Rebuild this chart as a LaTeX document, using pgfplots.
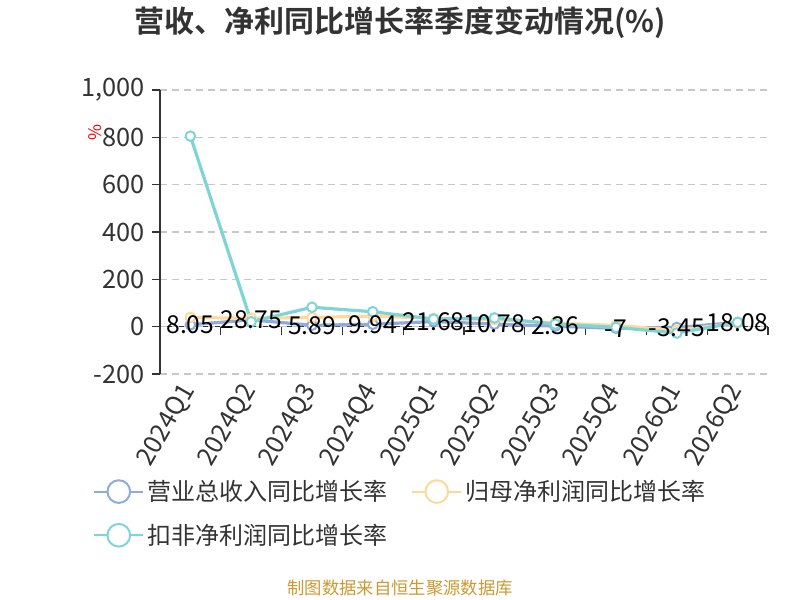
\documentclass[border=0pt]{standalone}
\usepackage{pgfplots}
\pgfplotsset{compat=1.18}
\usepackage{fontspec}
\setmainfont{Noto Sans CJK SC}[BoldFont={* Bold}]
\definecolor{cblue}{RGB}{143,170,220}
\definecolor{corange}{RGB}{255,217,155}
\definecolor{ccyan}{RGB}{127,212,215}
\definecolor{ctext}{RGB}{51,51,51}
\definecolor{cgrid}{RGB}{200,200,200}
\definecolor{cfoot}{RGB}{204,153,51}
\pgfplotstableread{
x y lab
0 8.05 8.05
1 28.75 28.75
2 5.89 5.89
3 9.94 9.94
4 21.68 21.68
5 10.78 10.78
6 2.36 2.36
7 -7 -7
8 -3.45 -3.45
9 18.08 18.08
}\revenue
\pgfplotstableread{
x y
0 39
1 35
2 39
3 45
4 35
5 30
6 15
7 5
8 -15
9 15
}\netprofit
\pgfplotstableread{
x y
0 805
1 21
2 82
3 63
4 32
5 37
6 11
7 -3
8 -27
9 18
}\deducted
\begin{document}
\begin{tikzpicture}
\useasboundingbox (0pt,0pt) rectangle (600pt,450pt);
\node[font=\fontsize{22.5}{26}\selectfont\bfseries, text=ctext] at (300pt,433pt) {营收、净利同比增长率季度变动情况(\%)};
\node[font=\fontsize{13}{16}\selectfont, text=cfoot] at (300pt,9pt) {制图数据来自恒生聚源数据库};
% zero line with boundary ticks
\begin{axis}[
  at={(120pt,169.5pt)}, anchor=south west,
  scale only axis, width=456pt, height=213pt,
  xmin=-0.5, xmax=9.5, ymin=-200, ymax=1000,
  axis y line=none, axis x line=middle,
  x axis line style={-, draw=ctext, line width=1pt},
  xtick={-0.5,0.5,...,9.5}, xticklabels={},
  tick align=outside, major tick length=6pt,
  xtick style={draw=ctext, line width=1pt},
]
\end{axis}
\begin{axis}[
  at={(120pt,169.5pt)}, anchor=south west,
  scale only axis, width=456pt, height=213pt,
  xmin=-0.5, xmax=9.5, ymin=-200, ymax=1000,
  axis x line=bottom, axis y line=left,
  x axis line style={draw=none, -},
  y axis line style={-, draw=ctext, line width=1pt},
  ytick={-200,0,200,400,600,800,1000},
  xtick={0,...,9},
  xticklabels={2024Q1,2024Q2,2024Q3,2024Q4,2025Q1,2025Q2,2025Q3,2025Q4,2026Q1,2026Q2},
  x tick style={draw=none},
  y tick style={draw=ctext, line width=1pt},
  tick align=outside, major tick length=6pt,
  ymajorgrids, major grid style={draw=cgrid, dash pattern=on 5pt off 4pt, line width=0.8pt},
  /pgf/number format/assume math mode=true,
  /pgf/number format/1000 sep={,},
  tick label style={font=\fontsize{19}{22}\selectfont, text=ctext},
  yticklabel style={xshift=-2pt},
  xticklabel style={rotate=60, anchor=east, yshift=-1pt},
  ylabel={\%}, ylabel style={at={(axis description cs:-0.107,0.849)}, anchor=center, text=red, font=\fontsize{13}{14}\selectfont, rotate=0},
  legend style={at={(axis description cs:-0.117,-0.355)}, anchor=north west, draw=none, fill=none,
    font=\fontsize{18}{21}\selectfont, text=ctext, legend columns=2,
    /tikz/every even column/.append style={column sep=16pt}, row sep=12pt},
  legend cell align=left,
  legend image code/.code={\draw[line width=1.5pt] (0pt,0pt) -- (37pt,0pt); \draw[line width=1.5pt, fill=white] (18.5pt,0pt) circle (8.5pt);},
  every axis plot/.append style={line width=2.4pt, mark=*, mark size=3.6pt, mark options={fill=white, line width=1.5pt}},
]
\addplot[color=cblue] table[x=x,y=y] {\revenue};
\addlegendentry{营业总收入同比增长率}
\addplot[color=corange] table[x=x,y=y] {\netprofit};
\addlegendentry{归母净利润同比增长率}
\addplot[color=ccyan] table[x=x,y=y] {\deducted};
\addlegendentry{扣非净利润同比增长率}
\addplot[draw=none, mark=none, forget plot, nodes near coords, point meta=explicit symbolic,
  nodes near coords style={anchor=center, font=\fontsize{18.5}{22}\selectfont, text=black}]
  table[x=x,y=y,meta=lab] {\revenue};
\end{axis}
\end{tikzpicture}
\end{document}
